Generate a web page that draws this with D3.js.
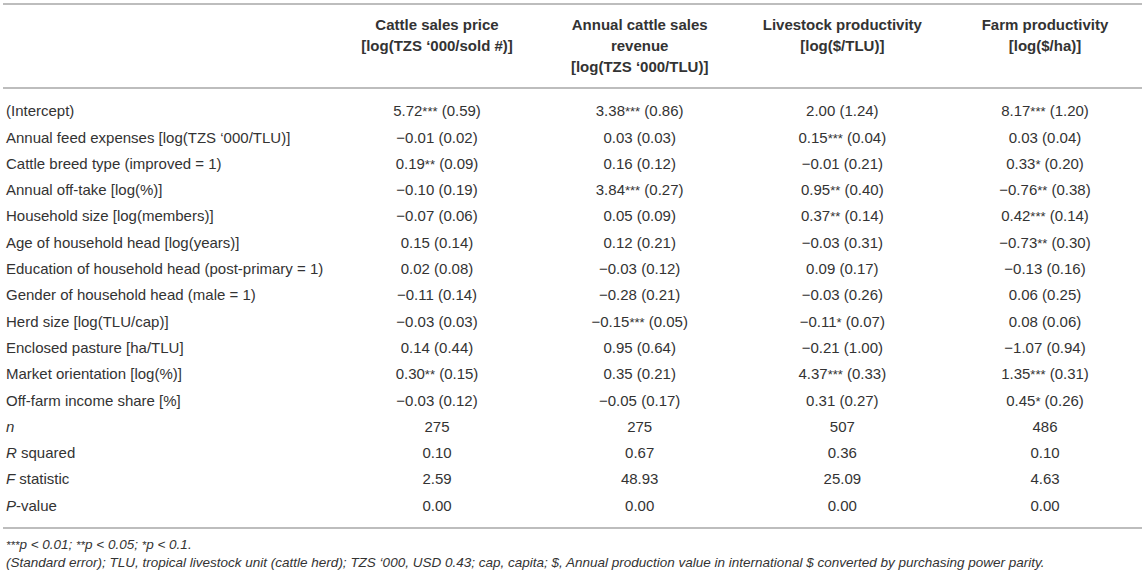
<!DOCTYPE html>
<html>
<head>
<meta charset="utf-8">
<script src="https://d3js.org/d3.v7.min.js"></script>
<style>
  body { margin: 0; background: #fff; }
  svg text { font-family: "Liberation Sans", Arial, sans-serif; fill: #333; }
</style>
</head>
<body>
<svg></svg>
<script>
const width = 1145;
const height = 576;

// column headers, one array of lines per model
const models = ["price", "revenue", "livestock", "farm"];
const headerLines = [
  ["Cattle sales price", "[log(TZS \u2018000/sold #)]"],
  ["Annual cattle sales", "revenue", "[log(TZS \u2018000/TLU)]"],
  ["Livestock productivity", "[log($/TLU)]"],
  ["Farm productivity", "[log($/ha)]"]
];

const variables = [
  "(Intercept)",
  "Annual feed expenses [log(TZS \u2018000/TLU)]",
  "Cattle breed type (improved = 1)",
  "Annual off-take [log(%)]",
  "Household size [log(members)]",
  "Age of household head [log(years)]",
  "Education of household head (post-primary = 1)",
  "Gender of household head (male = 1)",
  "Herd size [log(TLU/cap)]",
  "Enclosed pasture [ha/TLU]",
  "Market orientation [log(%)]",
  "Off-farm income share [%]"
];

// coefficients, significance stars and standard errors per model
const coefPrice     = [5.72, -0.01, 0.19, -0.10, -0.07, 0.15, 0.02, -0.11, -0.03, 0.14, 0.30, -0.03];
const starsPrice    = [3, 0, 2, 0, 0, 0, 0, 0, 0, 0, 2, 0];
const sePrice       = [0.59, 0.02, 0.09, 0.19, 0.06, 0.14, 0.08, 0.14, 0.03, 0.44, 0.15, 0.12];

const coefRevenue   = [3.38, 0.03, 0.16, 3.84, 0.05, 0.12, -0.03, -0.28, -0.15, 0.95, 0.35, -0.05];
const starsRevenue  = [3, 0, 0, 3, 0, 0, 0, 0, 3, 0, 0, 0];
const seRevenue     = [0.86, 0.03, 0.12, 0.27, 0.09, 0.21, 0.12, 0.21, 0.05, 0.64, 0.21, 0.17];

const coefLivestock  = [2.00, 0.15, -0.01, 0.95, 0.37, -0.03, 0.09, -0.03, -0.11, -0.21, 4.37, 0.31];
const starsLivestock = [0, 3, 0, 2, 2, 0, 0, 0, 1, 0, 3, 0];
const seLivestock    = [1.24, 0.04, 0.21, 0.40, 0.14, 0.31, 0.17, 0.26, 0.07, 1.00, 0.33, 0.27];

const coefFarm      = [8.17, 0.03, 0.33, -0.76, 0.42, -0.73, -0.13, 0.06, 0.08, -1.07, 1.35, 0.45];
const starsFarm     = [3, 0, 1, 2, 3, 2, 0, 0, 0, 0, 3, 1];
const seFarm        = [1.20, 0.04, 0.20, 0.38, 0.14, 0.30, 0.16, 0.25, 0.06, 0.94, 0.31, 0.26];

// model statistics
const statLabels = [["n", ""], ["R", " squared"], ["F", " statistic"], ["P", "-value"]];
const nObs   = [275, 275, 507, 486];
const rSq    = [0.10, 0.67, 0.36, 0.10];
const fStat  = [2.59, 48.93, 25.09, 4.63];
const pValue = [0.00, 0.00, 0.00, 0.00];

const footnote1 = [[3, "p < 0.01; "], [2, "p < 0.05; "], [1, "p < 0.1."]];
const footnote2 = "(Standard error); TLU, tropical livestock unit (cattle herd); TZS \u2018000, USD 0.43; cap, capita; $, Annual production value in international $ converted by purchasing power parity.";

const coefs = [coefPrice, coefRevenue, coefLivestock, coefFarm];
const stars = [starsPrice, starsRevenue, starsLivestock, starsFarm];
const ses   = [sePrice, seRevenue, seLivestock, seFarm];
const stats = [nObs, rSq, fStat, pValue];

const f2 = d3.format(".2f");   // v7 uses the real minus sign

const svg = d3.select("svg")
  .attr("width", width)
  .attr("height", height);

const x = d3.scalePoint()
  .domain(models)
  .range([437, 1045]);

const nRows = variables.length + statLabels.length;
const y = d3.scaleLinear()
  .domain([0, nRows - 1])
  .range([111, 505.5]);

const fs = 15;
const starSize = 13;

// rules
const rules = [4, 88, 528];
svg.append("g")
  .selectAll("line")
  .data(rules)
  .join("line")
    .attr("x1", 3)
    .attr("x2", width - 3)
    .attr("y1", d => d)
    .attr("y2", d => d)
    .attr("stroke", "#bdbdbd")
    .attr("stroke-width", 2);

// header
const header = svg.append("g")
  .attr("font-weight", "bold")
  .attr("font-size", fs)
  .attr("text-anchor", "middle");

header.selectAll("text")
  .data(models.flatMap((m, i) => headerLines[i].map((t, j) => ({m, t, j}))))
  .join("text")
    .attr("x", d => x(d.m))
    .attr("y", d => 25 + d.j * 21)
    .attr("dy", "0.35em")
    .text(d => d.t);

// row labels
const labels = svg.append("g").attr("font-size", fs);

labels.selectAll("text.var")
  .data(variables)
  .join("text")
    .attr("class", "var")
    .attr("x", 6)
    .attr("y", (d, i) => y(i))
    .attr("dy", "0.35em")
    .text(d => d);

labels.selectAll("text.stat")
  .data(statLabels)
  .join("text")
    .attr("class", "stat")
    .attr("x", 6)
    .attr("y", (d, i) => y(variables.length + i))
    .attr("dy", "0.35em")
    .each(function(d) {
      const t = d3.select(this);
      t.append("tspan").attr("font-style", "italic").text(d[0]);
      t.append("tspan").text(d[1]);
    });

// coefficient cells
const cells = svg.append("g")
  .attr("font-size", fs)
  .attr("text-anchor", "middle");

const coefData = models.flatMap((m, c) =>
  variables.map((v, r) => ({m, r, coef: coefs[c][r], st: stars[c][r], se: ses[c][r]})));

cells.selectAll("text.coef")
  .data(coefData)
  .join("text")
    .attr("class", "coef")
    .attr("x", d => x(d.m))
    .attr("y", d => y(d.r))
    .attr("dy", "0.35em")
    .each(function(d) {
      const t = d3.select(this);
      t.append("tspan").text(f2(d.coef));
      if (d.st > 0) {
        t.append("tspan").attr("font-size", starSize).text("*".repeat(d.st));
      }
      t.append("tspan").text(" (" + f2(d.se) + ")");
    });

const statData = models.flatMap((m, c) =>
  stats.map((s, r) => ({m, r: variables.length + r, text: r === 0 ? String(s[c]) : f2(s[c])})));

cells.selectAll("text.stat")
  .data(statData)
  .join("text")
    .attr("class", "stat")
    .attr("x", d => x(d.m))
    .attr("y", d => y(d.r))
    .attr("dy", "0.35em")
    .text(d => d.text);

// footnotes
const foot = svg.append("g")
  .attr("font-size", 13.5)
  .attr("font-style", "italic");

const fn1 = foot.append("text")
  .attr("x", 6)
  .attr("y", 544)
  .attr("dy", "0.35em");

footnote1.forEach(([n, s]) => {
  fn1.append("tspan").attr("font-size", 11.5).text("*".repeat(n));
  fn1.append("tspan").text(s);
});

foot.append("text")
  .attr("x", 6)
  .attr("y", 562)
  .attr("dy", "0.35em")
  .text(footnote2);
</script>
</body>
</html>
